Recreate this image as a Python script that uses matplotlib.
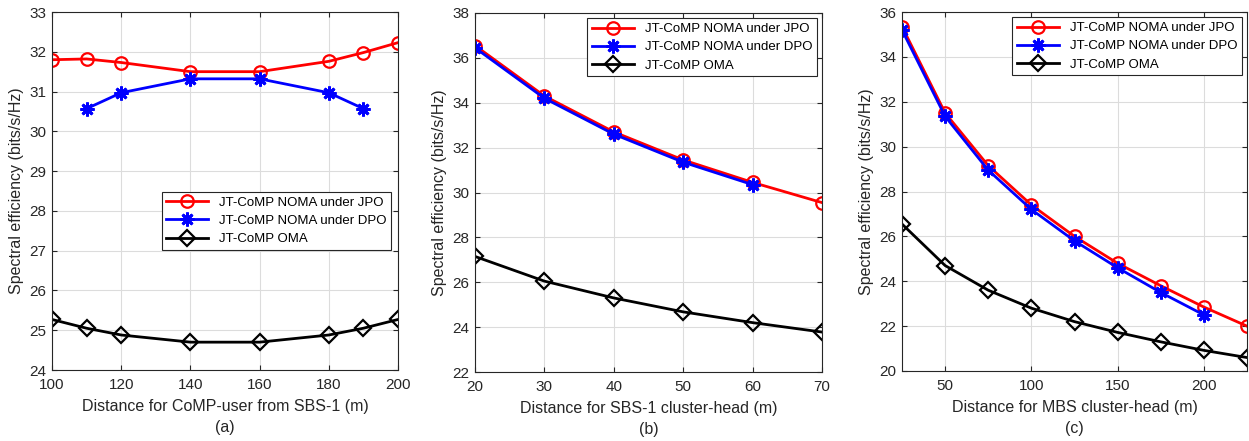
import matplotlib
matplotlib.use('Agg')
import matplotlib.pyplot as plt

plt.rcParams['font.family'] = ['Liberation Sans', 'DejaVu Sans']
plt.rcParams['font.size'] = 10

# panel (a)
xa = [100, 110, 120, 140, 160, 180, 190, 200]
a_jpo = [31.80, 31.82, 31.73, 31.50, 31.50, 31.76, 31.98, 32.23]
xa_dpo = [110, 120, 140, 160, 180, 190]
a_dpo = [30.57, 30.97, 31.32, 31.32, 30.97, 30.57]
a_oma = [25.27, 25.05, 24.88, 24.70, 24.70, 24.88, 25.05, 25.27]

# panel (b)
xb = [20, 30, 40, 50, 60, 70]
b_jpo = [36.55, 34.30, 32.70, 31.45, 30.45, 29.55]
xb_dpo = [20, 30, 40, 50, 60]
b_dpo = [36.45, 34.20, 32.60, 31.35, 30.35]
b_oma = [27.15, 26.05, 25.30, 24.68, 24.20, 23.78]

# panel (c)
xc = [25, 50, 75, 100, 125, 150, 175, 200, 225]
c_jpo = [35.35, 31.50, 29.15, 27.40, 26.00, 24.80, 23.80, 22.85, 22.00]
xc_dpo = [25, 50, 75, 100, 125, 150, 175, 200]
c_dpo = [35.20, 31.35, 28.95, 27.20, 25.80, 24.60, 23.50, 22.50]
c_oma = [26.55, 24.70, 23.60, 22.80, 22.20, 21.72, 21.30, 20.92, 20.60]

labels = ['JT-CoMP NOMA under JPO', 'JT-CoMP NOMA under DPO', 'JT-CoMP OMA']

fig = plt.figure(figsize=(12.49, 4.41), dpi=100)
W, H = 1249.0, 441.0
boxes = [(52, 12, 398, 370), (475, 13, 822, 372), (902, 12, 1247, 371)]

panels = [
    (xa, a_jpo, xa_dpo, a_dpo, a_oma, (100, 200), (24, 33), range(100, 201, 20), range(24, 34),
     'Distance for CoMP-user from SBS-1 (m)', '(a)', (0.98, 0.497)),
    (xb, b_jpo, xb_dpo, b_dpo, b_oma, (20, 70), (22, 38), range(20, 71, 10), range(22, 39, 2),
     'Distance for SBS-1 cluster-head (m)', '(b)', (0.985, 0.985)),
    (xc, c_jpo, xc_dpo, c_dpo, c_oma, (25, 225), (20, 36), range(50, 201, 50), range(20, 37, 2),
     'Distance for MBS cluster-head (m)', '(c)', (0.985, 0.985)),
]

asterisk = (8, 2, 0)

for (l, t, r, b), p in zip(boxes, panels):
    x, jpo, xd, dpo, oma, xl, yl, xt, yt, xlab, tag, lpos = p
    ax = fig.add_axes([l / W, 1 - b / H, (r - l) / W, (b - t) / H])
    ax.plot(x, jpo, '-o', color='red', lw=2, ms=9, mfc='none', mew=1.6, label=labels[0])
    ax.plot(xd, dpo, '-', marker=asterisk, color='blue', lw=2, ms=10, mew=2, label=labels[1])
    ax.plot(x, oma, '-D', color='black', lw=2, ms=8, mfc='none', mew=1.6, label=labels[2])
    ax.set_xlim(xl)
    ax.set_ylim(yl)
    ax.set_xticks(list(xt))
    ax.set_yticks(list(yt))
    ax.grid(True, color='#dcdcdc', lw=0.8)
    ax.tick_params(direction='in', top=True, right=True, colors='#262626', labelsize=11)
    ax.tick_params(axis='x', pad=6)
    ax.tick_params(axis='y', pad=4)
    for s in ax.spines.values():
        s.set_color('#262626')
    ax.set_ylabel('Spectral efficiency (bits/s/Hz)', fontsize=11.5, color='#262626', labelpad=4)
    ax.set_xlabel(xlab + '\n' + tag, fontsize=11.5, color='#262626', labelpad=5, linespacing=1.5)
    leg = ax.legend(loc='upper right', bbox_to_anchor=lpos, fontsize=9.5, fancybox=False,
                    framealpha=1, edgecolor='#262626', borderpad=0.35, labelspacing=0.45,
                    handlelength=3.2, borderaxespad=0)
    leg.get_frame().set_linewidth(0.8)

fig.savefig('out.png', dpi=100)
